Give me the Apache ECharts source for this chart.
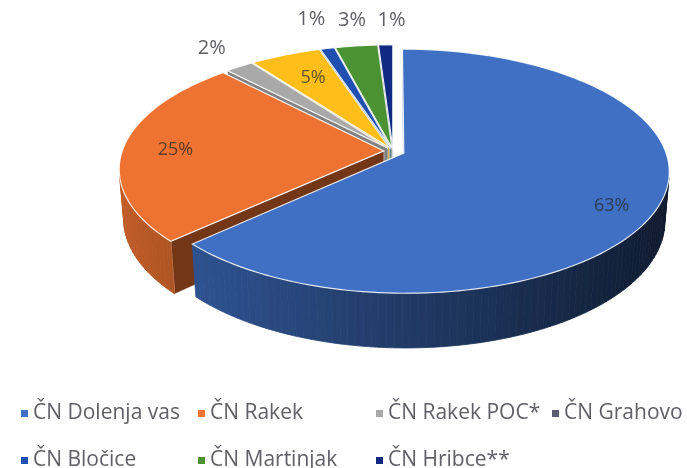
<!DOCTYPE html>
<html>
<head>
<meta charset="utf-8">
<script src="https://cdn.jsdelivr.net/npm/echarts@6/dist/echarts.min.js"></script>
<style>
  html, body { margin: 0; padding: 0; background: #fff; }
  #main { width: 687px; height: 468px; }
</style>
</head>
<body>
<div id="main"></div>
<script>
// data
const names = ['ČN Dolenja vas', 'ČN Rakek', 'ČN Rakek POC*', 'ČN Grahovo', 'ČN Bločice', 'ČN Martinjak', 'ČN Hribce**'];
const values = [63, 25, 2, 5, 1, 3, 1];

// styles
const colors = ['#3f70c4', '#ee7231', '#a9a9a9', '#ffbe1a', '#1f4fb0', '#4b9232', '#0f2a80'];
const legendColors = ['#3f70c4', '#ee7231', '#a9a9a9', '#5b5b72', '#1f4fb0', '#4b9232', '#0f2a80'];
const explode = [0.045, 0.035, 0.03, 0.03, 0.03, 0.03, 0.03];
// [radius, dx, dy, inside]
const labelLayout = [
  [0.85, -8, 10, true],
  [0.8, 0, 2, true],
  [1.25, 5, 0, false],
  [0.75, 4, 2, true],
  [1.4, 5, 4, false],
  [1.35, 6, 4, false],
  [1.35, 8, 5, false]
];
// legend placement [left, top] for each name
const legendPos = [[16, 398], [193, 398], [371, 398], [547, 398], [16, 445], [193, 445], [371, 445]];

// projection of the tilted pie (radius 1 in world units)
const cx = 393, cy = 151, F = 1580, D = 6.04, H = 0.213;
const phi = 27 * Math.PI / 180, sp = Math.sin(phi), cp = Math.cos(phi);
const cam = [0, -D * cp, D * sp];
function proj(X, Y, Z) {
  const v = Y * sp + Z * cp;
  const d = D + Y * cp - Z * sp;
  return [cx + F * X / d, cy - F * v / d];
}
function depth(Y, Z) { return D + Y * cp - Z * sp; }
function shade(hex, f) {
  f = Math.max(0.25, Math.min(0.95, f));
  const n = parseInt(hex.slice(1), 16);
  const r = Math.round(((n >> 16) & 255) * f), g = Math.round(((n >> 8) & 255) * f), b = Math.round((n & 255) * f);
  return 'rgb(' + r + ',' + g + ',' + b + ')';
}
const total = values.reduce((a, b) => a + b, 0);

function makeRender(idx) {
  return function (params, api) {
    const val = api.value(0);
    let before = 0;
    for (let j = 0; j < idx; j++) before += values[j];
    const a0 = before / total * Math.PI * 2;
    const a1 = (before + val) / total * Math.PI * 2;
    const am = (a0 + a1) / 2;
    const ox = explode[idx] * Math.sin(am), oy = explode[idx] * Math.cos(am);
    const color = colors[idx];
    const children = [];

    const n = Math.max(2, Math.ceil((a1 - a0) / (Math.PI / 120)));
    const angs = [];
    for (let k = 0; k <= n; k++) angs.push(a0 + (a1 - a0) * k / n);

    // outer wall
    for (let k = 0; k < n; k++) {
      const tm = (angs[k] + angs[k + 1]) / 2;
      const nx = Math.sin(tm), ny = Math.cos(tm);
      const px = ox + nx, py = oy + ny;
      const vis = nx * (cam[0] - px) + ny * (cam[1] - py) > 0;
      if (!vis) continue;
      const t0 = angs[k], t1 = angs[k + 1];
      const pts = [
        proj(ox + Math.sin(t0), oy + Math.cos(t0), 0),
        proj(ox + Math.sin(t1), oy + Math.cos(t1), 0),
        proj(ox + Math.sin(t1), oy + Math.cos(t1), -H),
        proj(ox + Math.sin(t0), oy + Math.cos(t0), -H)
      ];
      const c = shade(color, 0.52 - 0.3 * nx);
      children.push({
        type: 'polygon', shape: { points: pts },
        style: { fill: c, stroke: c, lineWidth: 0.8 },
        z2: Math.round(1000 - depth(py, -H / 2) * 100)
      });
    }

    // cut faces
    [[a0, -1], [a1, 1]].forEach(function (e) {
      const t = e[0], s = e[1];
      const nx = s * Math.cos(t), ny = -s * Math.sin(t);
      const vis = nx * (cam[0] - ox) + ny * (cam[1] - oy) > 0;
      if (!vis) return;
      const ex = ox + Math.sin(t), ey = oy + Math.cos(t);
      const pts = [proj(ox, oy, 0), proj(ex, ey, 0), proj(ex, ey, -H), proj(ox, oy, -H)];
      const c = shade(color, 0.62 - 0.2 * nx);
      children.push({
        type: 'polygon', shape: { points: pts },
        style: { fill: c, stroke: 'rgba(255,255,255,0.6)', lineWidth: 0.8 },
        z2: Math.round(1000 - depth((oy + ey) / 2, -H / 2) * 100)
      });
    });

    // top face
    const top = [proj(ox, oy, 0)];
    angs.forEach(function (t) { top.push(proj(ox + Math.sin(t), oy + Math.cos(t), 0)); });
    children.push({
      type: 'polygon', shape: { points: top },
      style: { fill: color, stroke: 'rgba(255,255,255,0.85)', lineWidth: 1.2 },
      z2: 2000
    });

    // label
    const lay = labelLayout[idx];
    const lp = proj(ox + lay[0] * Math.sin(am), oy + lay[0] * Math.cos(am), 0);
    children.push({
      type: 'text',
      style: {
        text: Math.round(val / total * 100) + '%',
        x: lp[0] + lay[1], y: lp[1] + lay[2],
        align: 'center', verticalAlign: 'middle',
        fill: lay[3] ? 'rgba(40,40,40,0.72)' : '#5f5f66',
        font: (lay[3] ? '18px' : '20px') + ' "Open Sans", sans-serif'
      },
      z2: 5000
    });

    return { type: 'group', children: children };
  };
}

const series = names.map(function (name, i) {
  return {
    type: 'custom',
    name: name,
    coordinateSystem: 'none',
    itemStyle: { color: legendColors[i] },
    data: [[values[i]]],
    renderItem: makeRender(i),
    silent: true
  };
});

const legendText = { fontSize: 21, color: '#5f5f66', fontFamily: 'Open Sans' };
const legends = names.map(function (name, i) {
  return {
    data: [name], left: legendPos[i][0], top: legendPos[i][1],
    icon: 'rect', itemWidth: 7, itemHeight: 7,
    selectedMode: false, textStyle: legendText
  };
});

const chart = echarts.init(document.getElementById('main'));
chart.setOption({
  animation: false,
  backgroundColor: '#fff',
  legend: legends,
  series: series
});
</script>
</body>
</html>
